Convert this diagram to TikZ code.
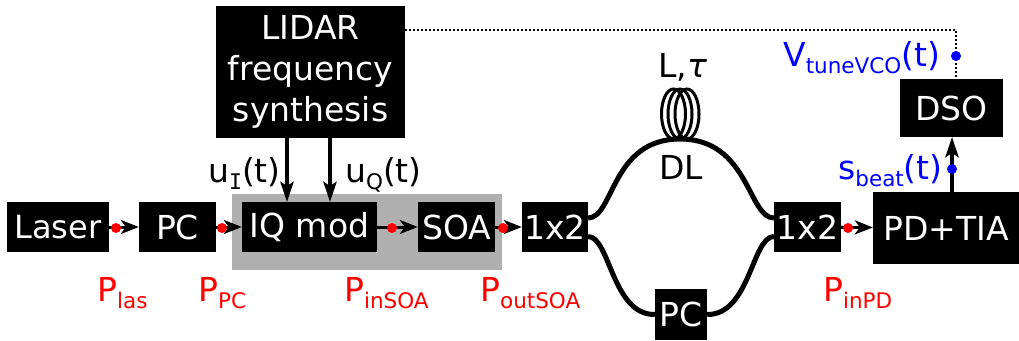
\documentclass[tikz,border=0pt]{standalone}
\usepackage{fontspec}
\setmainfont{DejaVu Sans}
\newfontfamily\monofam{DejaVu Sans Mono}
\usetikzlibrary{arrows.meta}
\definecolor{soagray}{RGB}{176,176,176}
\newcommand{\lowtxt}[1]{\raisebox{-0.22em}{\fontsize{21.5}{22}\selectfont #1}}
\begin{document}
\begin{tikzpicture}
[
	x=1pt,y=-1pt,
	blackbox/.style={draw=none,fill=black,text=white,inner sep=0pt,font=\fontsize{33}{41}\selectfont},
	lab/.style={inner sep=0pt,anchor=base west,font=\fontsize{33}{38}\selectfont},
	redlab/.style={lab,text=red},
	bluelab/.style={lab,text=blue},
	reddot/.style={circle,fill=red,inner sep=0pt,minimum size=10pt},
	bluedot/.style={circle,fill=blue,inner sep=0pt,minimum size=10pt},
	optic/.style={line width=3pt,-{Stealth[length=18pt,width=14pt,inset=5pt]}},
	elec/.style={line width=4pt,-{Stealth[length=20pt,width=13pt,inset=4pt]}},
	fibre/.style={line width=5pt},
	coil/.style={line width=3pt},
	tune/.style={line width=2pt,dotted}
]

	\useasboundingbox (0,0) rectangle (1019,340);

	\fill[soagray] (232,194) rectangle (502,270);

	\node[blackbox,font=\fontsize{32}{41}\selectfont,minimum width=102pt,minimum height=50pt] at (58,227) (laser) {Laser};
	\node[blackbox,minimum width=77pt,minimum height=50pt] at (177.5,227) (pcin) {PC};
	\node[blackbox,minimum width=135pt,minimum height=50pt] at (309.5,227) (iqmod) {IQ mod};
	\node[blackbox,minimum width=77pt,minimum height=50pt] at (456.5,227) (soa) {SOA};
	\node[blackbox,minimum width=66pt,minimum height=50pt] at (555,227) (splitin) {1x2};
	\node[blackbox,minimum width=67pt,minimum height=50pt] at (807.5,227) (splitout) {1x2};
	\node[blackbox,minimum width=52pt,minimum height=51pt] at (681,314.5) (pcarm) {PC};
	\node[blackbox,minimum width=146pt,minimum height=72pt] at (946,228) (pdtia) {PD+TIA};
	\node[blackbox,minimum width=103pt,minimum height=58pt] at (951.5,108) (dso) {DSO};
	\node[blackbox,minimum width=189pt,minimum height=132pt,align=center] at (310.5,72) (lidar) {LIDAR\\frequency\\synthesis};

	\draw[optic] (laser) -- (pcin);
	\draw[optic] (pcin) -- (iqmod);
	\draw[optic] (iqmod) -- (soa);
	\draw[optic] (soa) -- (splitin);
	\draw[optic] (splitout) -- (pdtia);

	\coordinate (iport) at (287,202);
	\coordinate (qport) at (330,202);
	\draw[elec] (iport |- lidar.south) -- (iport);
	\draw[elec] (qport |- lidar.south) -- (qport);

	\coordinate (sbeat) at (952,137);
	\draw[elec] (sbeat |- pdtia.north) -- (sbeat);

	\coordinate (corner) at (956,30);
	\draw[tune] (lidar.east |- corner) -- (corner) -- (corner |- dso.north);

	\coordinate (upin) at (588,218);
	\coordinate (lowin) at (588,236.5);
	\coordinate (upout) at (774,218);
	\coordinate (lowout) at (774,236.5);
	\coordinate (dltop) at (680,139);
	\draw[fibre] (upin) .. controls (614,218) and (611,139) .. (dltop);
	\draw[fibre] (dltop) .. controls (749,139) and (748,218) .. (upout);
	\draw[fibre] (lowin) .. controls (610,236.5) and (612,315) .. (pcarm.west);
	\draw[fibre] (pcarm.east) .. controls (750,315) and (752,236.5) .. (lowout);

	\foreach \cx in {673.5,680,687}
		\draw[coil] (\cx,114) ellipse (12 and 25);

	\node[reddot] at (116,228) (plasdot) {};
	\node[reddot] at (222,228) (ppcdot) {};
	\node[reddot] at (392,228) (pinsoadot) {};
	\node[reddot] at (503,228) (poutsoadot) {};
	\node[reddot] at (848,228) (pinpddot) {};
	\node[bluedot] at (952,169) (sbeatdot) {};
	\node[bluedot] at (956,56) (vtunedot) {};

	\node[lab] at (208,182) (ui) {u\lowtxt{\monofam I}(t)};
	\node[lab] at (345,182) (uq) {u\lowtxt{Q}(t)};
	\node[lab] at (658,77) (ltau) {L,\textit{τ}};
	\node[lab] at (659,179) (dl) {DL};

	\node[redlab] at (97,301) (plas) {P\lowtxt{las}};
	\node[redlab] at (198,301) (ppc) {P\lowtxt{PC}};
	\node[redlab] at (344,301) (pinsoa) {P\lowtxt{inSOA}};
	\node[redlab] at (480,301) (poutsoa) {P\lowtxt{outSOA}};
	\node[redlab] at (823,301) (pinpd) {P\lowtxt{inPD}};

	\node[bluelab] at (838,179) (sb) {s\lowtxt{beat}(t)};
	\node[bluelab] at (783,66) (vt) {V\lowtxt{tuneVCO}(t)};

\end{tikzpicture}
\end{document}
